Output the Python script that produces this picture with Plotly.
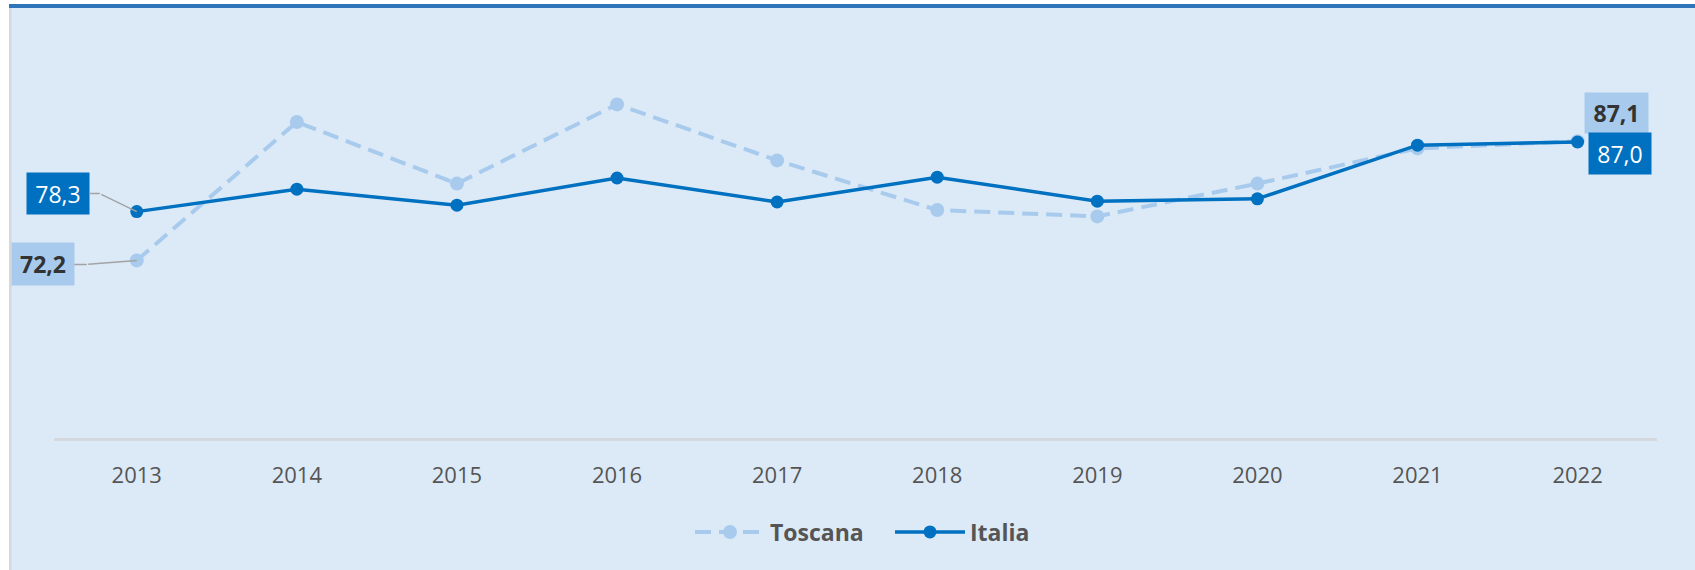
import plotly.graph_objects as go

years = ["2013", "2014", "2015", "2016", "2017", "2018", "2019", "2020", "2021", "2022"]
toscana = [72.2, 89.5, 81.8, 91.7, 84.7, 78.5, 77.7, 81.8, 86.2, 87.1]
italia = [78.3, 81.1, 79.1, 82.5, 79.5, 82.6, 79.6, 79.9, 86.6, 87.0]

W, H = 1695, 570
ML, MR, MT, MB = 54, 38, 38, 132
PW, PH = W - ML - MR, H - MT - MB

def px(xp):
    return (xp - ML) / PW

def py(yp):
    return (H - MB - yp) / PH

BG = "#DCEAF7"
C_IT = "#0070C0"
C_TO = "#A8CBED"
LEAD = "#A3A3A3"
FONT = "Open Sans"

xs = list(range(len(years)))

fig = go.Figure()
fig.add_trace(go.Scatter(
    x=xs, y=toscana, name="Toscana", mode="lines+markers",
    line=dict(color=C_TO, width=4, dash="16px,8px"),
    marker=dict(color=C_TO, size=14),
))
fig.add_trace(go.Scatter(
    x=xs, y=italia, name="Italia", mode="lines+markers",
    line=dict(color=C_IT, width=3.4),
    marker=dict(color=C_IT, size=13),
))

def fmt(v):
    return f"{v:.1f}".replace(".", ",")

ann = []
# Italia first point: leader (elbow -> point) and label (box -> elbow)
ann.append(dict(x=0, y=italia[0], xref="x", yref="y", text="",
                showarrow=True, arrowhead=0, arrowwidth=1.5, arrowcolor=LEAD,
                ax=-37, ay=-18, standoff=0, startstandoff=0))
ann.append(dict(x=0, y=italia[0], xref="x", yref="y", text=fmt(italia[0]),
                xshift=-37, yshift=18,
                showarrow=True, arrowhead=0, arrowwidth=1.5, arrowcolor=LEAD,
                ax=-42, ay=0, standoff=0, startstandoff=0,
                bgcolor=C_IT, width=62, height=41, borderpad=0,
                font=dict(family=FONT, size=23, color="white")))
# Toscana first point
ann.append(dict(x=0, y=toscana[0], xref="x", yref="y", text="",
                showarrow=True, arrowhead=0, arrowwidth=1.5, arrowcolor=LEAD,
                ax=-50, ay=4, standoff=0, startstandoff=0))
ann.append(dict(x=0, y=toscana[0], xref="x", yref="y", text="<b>" + fmt(toscana[0]) + "</b>",
                xshift=-50, yshift=-4,
                showarrow=True, arrowhead=0, arrowwidth=1.5, arrowcolor=LEAD,
                ax=-44, ay=0, standoff=0, startstandoff=0,
                bgcolor=C_TO, width=62, height=42, borderpad=0,
                font=dict(family=FONT, size=23, color="#333333")))
# last-point labels
ann.append(dict(x=len(years) - 1, y=toscana[-1], xref="x", yref="y",
                text="<b>" + fmt(toscana[-1]) + "</b>", showarrow=False,
                xshift=39, yshift=28,
                bgcolor=C_TO, width=63, height=40, borderpad=0,
                font=dict(family=FONT, size=23, color="#333333")))
ann.append(dict(x=len(years) - 1, y=italia[-1], xref="x", yref="y",
                text=fmt(italia[-1]), showarrow=False,
                xshift=42, yshift=-11,
                bgcolor=C_IT, width=62, height=41, borderpad=0,
                font=dict(family=FONT, size=23, color="white")))

shapes = [
    # white strips at top and left (page around the card)
    dict(type="rect", xref="paper", yref="paper", x0=px(-5), x1=px(W + 5), y0=py(4), y1=py(-5),
         fillcolor="white", line=dict(width=0), layer="below"),
    dict(type="rect", xref="paper", yref="paper", x0=px(-5), x1=px(9), y0=py(H + 5), y1=py(-5),
         fillcolor="white", line=dict(width=0), layer="below"),
    # top blue bar
    dict(type="rect", xref="paper", yref="paper", x0=px(9), x1=px(W + 5), y0=py(8), y1=py(4),
         fillcolor="#2F74B8", line=dict(width=0), layer="below"),
    # left grey border
    dict(type="rect", xref="paper", yref="paper", x0=px(9), x1=px(11.5), y0=py(H + 5), y1=py(8),
         fillcolor="#D4D8DC", line=dict(width=0), layer="below"),
]

fig.update_layout(
    width=W, height=H,
    margin=dict(l=ML, r=MR, t=MT, b=MB),
    paper_bgcolor=BG, plot_bgcolor=BG,
    font=dict(family=FONT, color="#555555"),
    showlegend=True,
    legend=dict(orientation="h", x=px(690), xanchor="left", y=py(532), yanchor="middle",
                font=dict(family=FONT, size=23, color="#555555", weight="bold"),
                itemwidth=70, entrywidth=115, bgcolor="rgba(0,0,0,0)", traceorder="normal"),
    annotations=ann,
    shapes=shapes,
    hovermode=False,
)
fig.update_xaxes(
    range=[-0.517, 9.496], tickvals=xs, ticktext=years,
    showgrid=False, zeroline=False,
    showline=True, linecolor="#D5D9DD", linewidth=2.5,
    ticks="outside", ticklen=16, tickcolor=BG,
    tickfont=dict(family=FONT, size=22, color="#555555"),
)
fig.update_yaxes(range=[50, 100], visible=False, showgrid=False, zeroline=False)

fig.write_html("out.html", config={"displayModeBar": False},
               post_script="document.body.style.margin='0';")
